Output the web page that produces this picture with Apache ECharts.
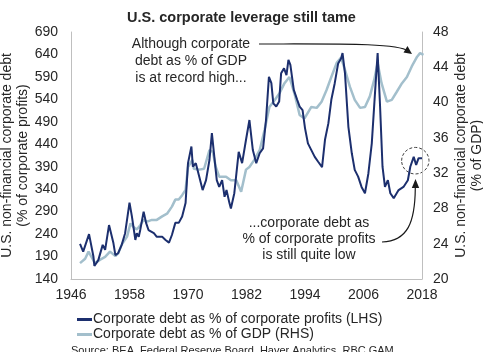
<!DOCTYPE html>
<html>
<head>
<meta charset="utf-8">
<script src="https://cdn.jsdelivr.net/npm/echarts@6/dist/echarts.min.js"></script>
<style>
  html, body { margin: 0; padding: 0; background: #fff; }
  #main { width: 483px; height: 352px; }
</style>
</head>
<body>
<div id="main"></div>
<script>
// corporate debt as % of corporate profits (LHS), [year, value]
var debtToProfits = [
  [1947.85, 218], [1948.5, 201], [1949.7, 240], [1950.6, 190], [1950.8, 169],
  [1951.6, 182], [1952.5, 216], [1953.0, 205], [1953.8, 260], [1954.7, 220],
  [1955.1, 193], [1955.7, 198], [1956.4, 216], [1957.1, 242], [1958.0, 310],
  [1958.5, 279], [1959.2, 227], [1959.5, 242], [1959.9, 234], [1960.2, 249],
  [1960.9, 290], [1961.4, 265], [1961.9, 249], [1963.0, 242], [1963.6, 234],
  [1964.7, 234], [1965.4, 227], [1966.1, 221], [1966.7, 238], [1967.4, 265],
  [1968.1, 265], [1968.8, 279], [1969.5, 309], [1970.0, 398], [1970.7, 435],
  [1971.0, 390], [1971.6, 398], [1972.3, 368], [1973.0, 338], [1973.7, 360],
  [1974.4, 405], [1974.9, 465], [1975.4, 412], [1975.9, 360], [1976.4, 345],
  [1977.0, 360], [1977.5, 323], [1977.9, 338], [1978.5, 309], [1978.8, 297],
  [1979.5, 331], [1980.4, 423], [1981.1, 398], [1981.9, 450], [1982.6, 494],
  [1983.3, 427], [1984.0, 398], [1984.7, 420], [1985.4, 431], [1986.0, 494],
  [1986.6, 590], [1987.1, 576], [1987.5, 531], [1988.1, 524], [1988.7, 535],
  [1989.1, 598], [1989.7, 609], [1990.2, 594], [1990.6, 628], [1991.0, 617],
  [1991.7, 561], [1992.4, 539], [1992.9, 524], [1993.5, 516], [1994.0, 476],
  [1994.6, 442], [1995.3, 427], [1996.0, 412], [1996.7, 401], [1997.5, 389],
  [1998.1, 450], [1998.8, 487], [1999.4, 539], [2000.1, 576], [2000.8, 620],
  [2001.4, 631], [2001.7, 643], [2002.2, 598], [2002.9, 479], [2003.6, 420],
  [2004.2, 383], [2004.9, 368], [2005.6, 345], [2006.3, 331], [2007.0, 375],
  [2007.7, 442], [2008.4, 561], [2008.9, 643], [2009.4, 524], [2009.9, 390],
  [2010.4, 345], [2011.0, 360], [2011.5, 331], [2012.2, 320], [2013.2, 338],
  [2014.2, 345], [2015.1, 360], [2015.6, 390], [2016.3, 412], [2016.8, 394],
  [2017.3, 409], [2018.0, 409]
];

// corporate debt as % of GDP (RHS), [year, value]
var debtToGdp = [
  [1947.85, 21.8], [1948.9, 22.3], [1949.6, 23.1], [1950.2, 22.5], [1950.9, 21.8],
  [1952.0, 22.2], [1953.0, 22.5], [1954.0, 23.1], [1955.1, 22.6], [1955.7, 22.9],
  [1956.4, 23.9], [1957.5, 24.8], [1958.2, 26.3], [1958.8, 25.9], [1959.5, 25.6],
  [1960.2, 26.1], [1960.9, 26.7], [1961.6, 26.5], [1962.6, 26.7], [1963.6, 26.7],
  [1964.7, 27.1], [1965.7, 27.4], [1966.7, 28.2], [1967.4, 29.0], [1968.1, 29.0],
  [1968.8, 29.5], [1969.5, 30.1], [1970.0, 32.7], [1970.9, 33.5], [1971.2, 32.5],
  [1972.3, 32.4], [1973.3, 32.5], [1974.4, 34.6], [1975.1, 34.4], [1975.7, 32.7],
  [1976.4, 31.6], [1977.8, 31.6], [1978.8, 31.2], [1979.9, 31.2], [1980.9, 29.9],
  [1981.9, 32.4], [1982.6, 32.7], [1983.6, 33.5], [1984.7, 34.6], [1985.7, 36.9],
  [1986.7, 39.5], [1987.8, 40.3], [1988.8, 41.1], [1989.8, 42.2], [1990.8, 42.9],
  [1991.9, 40.9], [1992.9, 38.6], [1993.9, 38.2], [1995.3, 39.5], [1996.4, 39.4],
  [1997.4, 40.1], [1998.4, 41.4], [1999.4, 42.9], [2000.5, 44.5], [2001.4, 45.1],
  [2002.2, 43.7], [2003.2, 41.8], [2004.2, 40.3], [2005.3, 39.4], [2006.3, 39.5],
  [2007.3, 40.7], [2008.2, 42.6], [2008.9, 44.5], [2009.7, 42.2], [2010.8, 40.1],
  [2011.8, 40.3], [2012.8, 41.2], [2013.9, 42.2], [2014.9, 42.9], [2015.9, 44.1],
  [2017.0, 45.2], [2017.6, 45.6], [2018.3, 45.4]
];

var seriesNames = [
  "Corporate debt as % of corporate profits (LHS)",
  "Corporate debt as % of GDP (RHS)"
];

var FONT = "Liberation Sans, Arial, sans-serif";
var TXT = "#262626";
var AXIS = "#bfbfbf";

var myChart = echarts.init(document.getElementById("main"));

myChart.setOption({
  animation: false,
  textStyle: { fontFamily: FONT },
  title: {
    text: "U.S. corporate leverage still tame",
    left: "center",
    top: 5,
    textStyle: { fontSize: 14.5, fontWeight: "bold", color: TXT, fontFamily: FONT }
  },
  grid: { left: 71, right: 61, top: 32, bottom: 73, outerBoundsMode: "none" },
  legend: {
    orient: "vertical",
    left: 72,
    top: 307,
    itemGap: 0,
    itemWidth: 15,
    itemHeight: 3,
    icon: "rect",
    data: seriesNames,
    textStyle: { fontSize: 14, color: TXT, lineHeight: 15, padding: [0, 0, 0, -4], fontFamily: FONT }
  },
  xAxis: {
    type: "value",
    min: 1946,
    max: 2018,
    interval: 12,
    splitLine: { show: false },
    axisTick: { show: false },
    axisLine: { show: true, lineStyle: { color: AXIS, width: 1 } },
    axisLabel: { color: TXT, fontSize: 14, margin: 9, fontFamily: FONT, formatter: function (v) { return String(v); } }
  },
  yAxis: [
    {
      type: "value",
      position: "left",
      min: 140,
      max: 690,
      interval: 50,
      name: "U.S. non-financial corporate debt\n(% of corporate profits)",
      nameLocation: "middle",
      nameRotate: 90,
      nameGap: 40,
      nameMoveOverlap: false,
      nameTextStyle: { fontSize: 14, color: TXT, lineHeight: 16, fontFamily: FONT },
      splitLine: { show: false },
      axisTick: { show: false },
      axisLine: { show: true, lineStyle: { color: AXIS, width: 1 } },
      axisLabel: { color: TXT, fontSize: 14, margin: 13, fontFamily: FONT }
    },
    {
      type: "value",
      position: "right",
      min: 20,
      max: 48,
      interval: 4,
      name: "U.S. non-financial corporate debt\n(% of GDP)",
      nameLocation: "middle",
      nameRotate: 90,
      nameGap: 31,
      nameMoveOverlap: false,
      nameTextStyle: { fontSize: 14, color: TXT, lineHeight: 16, fontFamily: FONT },
      splitLine: { show: false },
      axisTick: { show: false },
      axisLine: { show: true, lineStyle: { color: AXIS, width: 1 } },
      axisLabel: { color: TXT, fontSize: 14, margin: 11, fontFamily: FONT }
    }
  ],
  series: [
    {
      name: seriesNames[0],
      type: "line",
      yAxisIndex: 0,
      data: debtToProfits,
      showSymbol: false,
      z: 3,
      color: "#1c2f6e",
      lineStyle: { width: 2, color: "#1c2f6e" }
    },
    {
      name: seriesNames[1],
      type: "line",
      yAxisIndex: 1,
      data: debtToGdp,
      showSymbol: false,
      z: 2,
      color: "#a3bfcc",
      lineStyle: { width: 2.5, color: "#a3bfcc" }
    }
  ],
  graphic: [
    {
      type: "text",
      x: 191,
      y: 36,
      style: {
        text: "Although corporate\ndebt as % of GDP\nis at record high...",
        fill: TXT,
        font: "14px " + FONT,
        textAlign: "center",
        lineHeight: 17
      }
    },
    {
      type: "text",
      x: 309,
      y: 215,
      style: {
        text: "...corporate debt as\n% of corporate profits\nis still quite low",
        fill: TXT,
        font: "14px " + FONT,
        textAlign: "center",
        lineHeight: 16
      }
    },
    {
      type: "text",
      x: 71,
      y: 345,
      style: {
        text: "Source: BEA, Federal Reserve Board, Haver Analytics, RBC GAM",
        fill: TXT,
        font: "11px " + FONT
      }
    },
    // arrow to GDP record high
    {
      type: "bezierCurve",
      shape: { x1: 259, y1: 44, x2: 408, y2: 51, cpx1: 340, cpy1: 44, cpx2: 398, cpy2: 43 },
      style: { stroke: "#1a1a1a", lineWidth: 1.2, fill: null }
    },
    {
      type: "polygon",
      shape: { points: [[412, 54], [403.5, 52.5], [407.5, 46]] },
      style: { fill: "#1a1a1a" }
    },
    // arrow to profits circle
    {
      type: "bezierCurve",
      shape: { x1: 382, y1: 242, x2: 415.3, y2: 188, cpx1: 408, cpy1: 241, cpx2: 415, cpy2: 222 },
      style: { stroke: "#1a1a1a", lineWidth: 1.2, fill: null }
    },
    {
      type: "polygon",
      shape: { points: [[415.5, 179], [411.8, 188], [419.2, 188]] },
      style: { fill: "#1a1a1a" }
    },
    {
      type: "ellipse",
      shape: { cx: 415.3, cy: 160.7, rx: 13.7, ry: 13.3 },
      style: { stroke: "#404040", lineWidth: 1, lineDash: [3, 2], fill: null }
    }
  ]
});
</script>
</body>
</html>
